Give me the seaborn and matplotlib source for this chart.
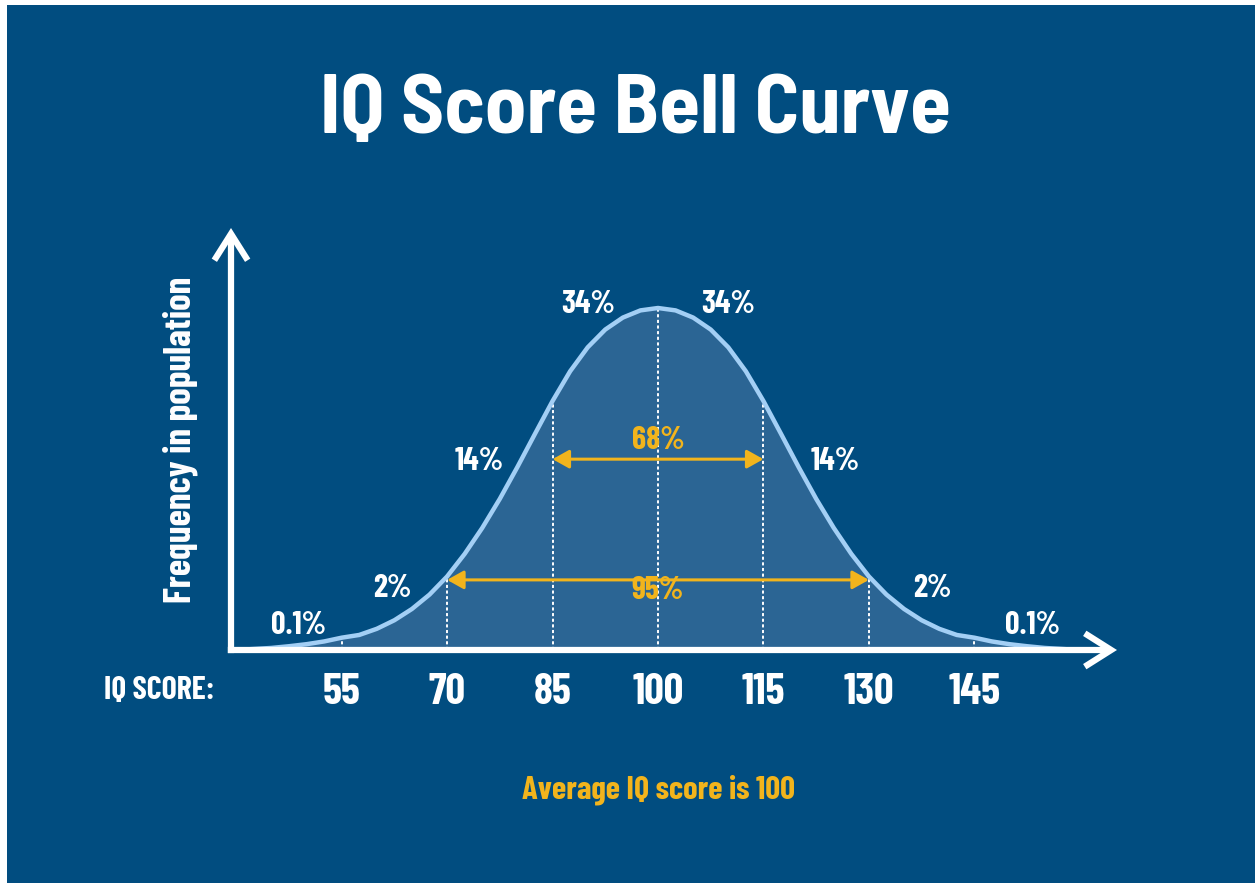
import numpy as np
import pandas as pd
import matplotlib
matplotlib.use("Agg")
import matplotlib.pyplot as plt
import seaborn as sns

# -------------------- #
# Data
# -------------------- #
# curve height (share of the peak) every 2.5 IQ points, 40 .. 160
iq_points = [40, 42.5, 45, 47.5, 50, 52.5, 55, 57.5, 60, 62.5, 65, 67.5, 70,
             72.5, 75, 77.5, 80, 82.5, 85, 87.5, 90, 92.5, 95, 97.5, 100,
             102.5, 105, 107.5, 110, 112.5, 115, 117.5, 120, 122.5, 125,
             127.5, 130, 132.5, 135, 137.5, 140, 142.5, 145, 147.5, 150,
             152.5, 155, 157.5, 160]
curve_height = [0.000, 0.003, 0.006, 0.011, 0.017, 0.025, 0.036, 0.044, 0.062,
                0.087, 0.120, 0.162, 0.215, 0.281, 0.357, 0.442, 0.535, 0.632,
                0.728, 0.815, 0.885, 0.937, 0.972, 0.993, 1.000,
                0.993, 0.972, 0.937, 0.885, 0.815, 0.728, 0.632, 0.535, 0.442,
                0.357, 0.281, 0.215, 0.162, 0.120, 0.087, 0.062, 0.044, 0.036,
                0.025, 0.017, 0.011, 0.006, 0.003, 0.000]

tick_scores = [55, 70, 85, 100, 115, 130, 145]

# band labels: text, IQ position, height
band_labels = ["0.1%", "2%", "14%", "34%", "34%", "14%", "2%", "0.1%"]
band_x = [48.8, 62.2, 74.5, 90.0, 110.0, 125.2, 139.0, 153.3]
band_y = [0.073, 0.181, 0.55, 1.009, 1.009, 0.55, 0.181, 0.073]

# share ranges: label, from, to, arrow height, label height
range_labels = ["68%", "95%"]
range_lo = [85, 70]
range_hi = [115, 130]
range_y = [0.558, 0.205]
range_text_y = [0.614, 0.175]

df = pd.DataFrame({"iq": iq_points, "height": curve_height})
lookup = dict(zip(iq_points, curve_height))

# -------------------- #
# Style
# -------------------- #
BG = "#014d80"
FILL = "#2b6594"
LINE = "#a3cff5"
GOLD = "#f2b41c"

sns.set_style("white")
plt.rcParams["font.family"] = ["Barlow Condensed", "Liberation Sans", "DejaVu Sans"]
plt.rcParams["font.weight"] = "bold"

W, H = 1260, 883
fig = plt.figure(figsize=(W / 100, H / 100), dpi=100, facecolor="white")
# blue panel (thin white frame on top, left and right)
ax = fig.add_axes([7 / W, 0, (1255 - 7) / W, (H - 5) / H])
ax.set_facecolor(BG)

px_per_iq = 7.03
ax.set_xlim(100 - (658 - 7) / px_per_iq, 100 + (1255 - 658) / px_per_iq)
ax.set_ylim(-(883 - 650) / 342, (650 - 5) / 342)
for s in ax.spines.values():
    s.set_visible(False)
ax.set_xticks([])
ax.set_yticks([])

# area + curve
ax.fill_between(df["iq"], df["height"], color=FILL, lw=0, zorder=1)
sns.lineplot(data=df, x="iq", y="height", ax=ax, color=LINE, lw=3.2,
             zorder=4, solid_capstyle="round")

# dotted guides from baseline to curve
ax.vlines(tick_scores, 0, [lookup[t] for t in tick_scores], colors="white",
          lw=1.4, linestyles=(0, (1.6, 1.3)), zorder=3)

# axes arrows
y_axis_x = 100 - (658 - 231) / px_per_iq
x_tip = 100 + (1117 - 658) / px_per_iq
arrow_kw = dict(arrowstyle="->,head_length=0.95,head_width=0.6", lw=4.5,
                color="white", shrinkA=0, shrinkB=0, mutation_scale=20,
                joinstyle="miter", capstyle="butt")
ax.annotate("", xy=(x_tip, 0), xytext=(y_axis_x - 0.45, 0),
            arrowprops=arrow_kw, zorder=5)
ax.annotate("", xy=(y_axis_x, (650 - 228) / 342), xytext=(y_axis_x, -0.009),
            arrowprops=arrow_kw, zorder=5)

# range arrows + labels
for lab, lo, hi, y, ty in zip(range_labels, range_lo, range_hi, range_y,
                              range_text_y):
    ax.annotate("", xy=(hi, y), xytext=(lo, y),
                arrowprops=dict(arrowstyle="<|-|>,head_length=0.5,head_width=0.28",
                                lw=2.2, color=GOLD, shrinkA=0, shrinkB=0,
                                mutation_scale=20), zorder=6)
    ax.text(100, ty, lab, color=GOLD, fontsize=23, ha="center",
            va="center", zorder=7)

# band percentages
for lab, x, y in zip(band_labels, band_x, band_y):
    ax.text(x, y, lab, color="white", fontsize=23, ha="center", va="center",
            zorder=7)

# score labels
for t in tick_scores:
    ax.text(t, -(693 - 650) / 342, str(t), color="white", fontsize=31,
            ha="center", va="center")

# -------------------- #
# Text
# -------------------- #
fig.text(636 / W, 1 - 112 / H, "IQ Score Bell Curve", color="white",
         fontsize=60, ha="center", va="center", fontweight="bold",
         family=["Barlow Semi Condensed", "Barlow Condensed", "DejaVu Sans"])
fig.text(159 / W, 1 - 691 / H, "IQ SCORE:", color="white", fontsize=23,
         ha="center", va="center")
fig.text(180 / W, 1 - 440 / H, "Frequency in population", color="white",
         fontsize=27, ha="center", va="center", rotation=90)
fig.text(658 / W, 1 - 790 / H, "Average IQ score is 100", color=GOLD,
         fontsize=23.5, ha="center", va="center")

fig.savefig("out.png", dpi=100, facecolor="white")
